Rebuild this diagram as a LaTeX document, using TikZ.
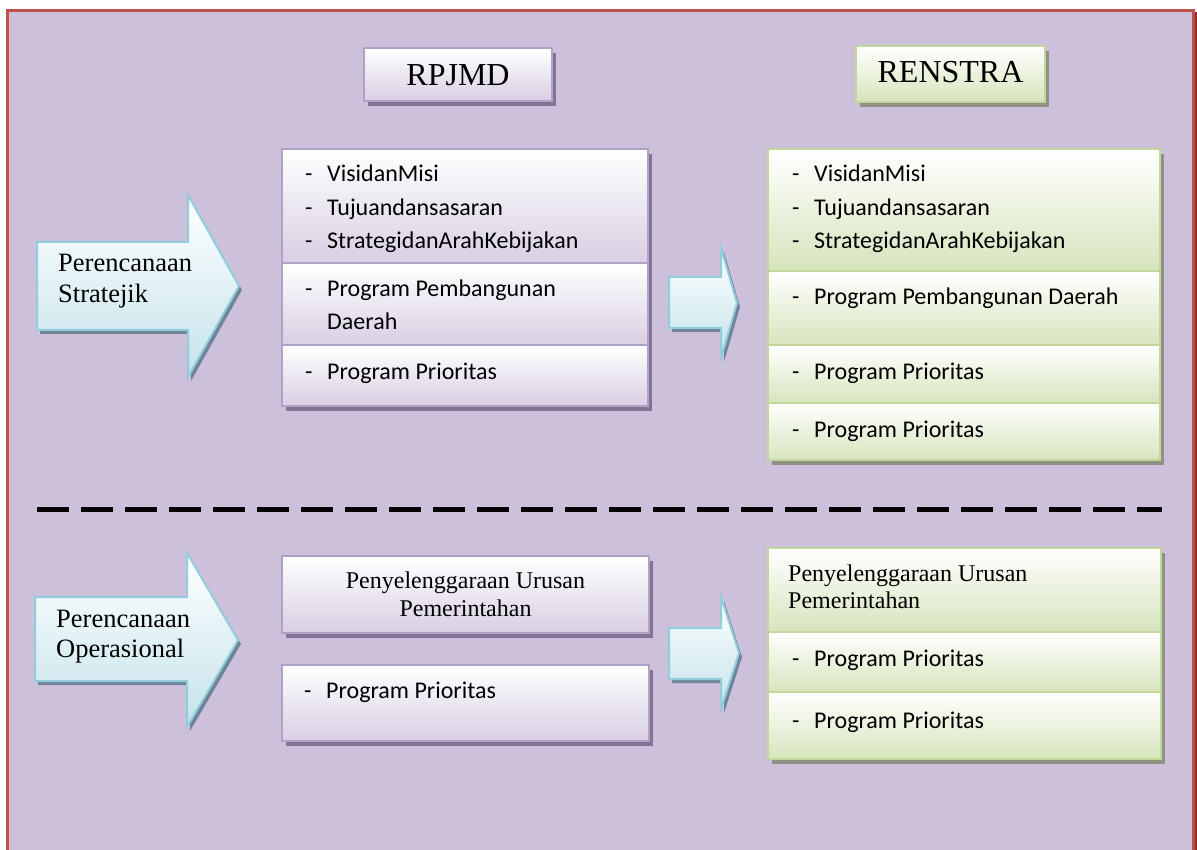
\documentclass[tikz,border=0pt]{standalone}
\usepackage{fontspec}
\setmainfont{Liberation Serif}
\newfontfamily\calfont{Carlito}
\usetikzlibrary{shadows}
\definecolor{bg}{HTML}{CCC0DA}
\definecolor{framered}{HTML}{C0504D}
\definecolor{framedark}{HTML}{8E2A27}
\definecolor{pline}{HTML}{B2A1C7}
\definecolor{pbot}{HTML}{D8CFE3}
\definecolor{pshadow}{HTML}{857396}
\definecolor{gline}{HTML}{C3D69B}
\definecolor{gbot}{HTML}{D7E4BD}
\definecolor{gshadow}{HTML}{8F9182}
\definecolor{bline}{HTML}{92CDDC}
\definecolor{bbot}{HTML}{C4E3EB}
\definecolor{bshadow}{HTML}{6F8399}
\newcommand\dashitem[1]{\makebox[22pt][l]{-}#1}
\begin{document}
\begin{tikzpicture}[x=1pt,y=-1pt,
  pbox/.style={draw=pline, line width=2.5pt, top color=white, bottom color=pbot,
    drop shadow={shadow xshift=4pt, shadow yshift=-5pt, opacity=1, fill=pshadow},
    inner sep=0pt, outer sep=0pt},
  gbox/.style={draw=gline, line width=2.5pt, top color=white, bottom color=gbot,
    drop shadow={shadow xshift=4pt, shadow yshift=-5pt, opacity=1, fill=gshadow},
    inner sep=0pt, outer sep=0pt},
  barrow/.style={draw=bline, line width=2pt, top color=white, bottom color=bbot,
    drop shadow={shadow xshift=3pt, shadow yshift=-4pt, opacity=1, fill=bshadow}},
  cal/.style={font=\calfont\fontsize{24}{29}\selectfont, inner sep=0pt, anchor=base west},
  tnr/.style={font=\fontsize{26.5}{31}\selectfont, inner sep=0pt, anchor=base west},
  ttl/.style={font=\fontsize{32}{36}\selectfont, inner sep=0pt, anchor=base},
  ser/.style={font=\fontsize{24}{28}\selectfont, inner sep=0pt},
]
\useasboundingbox (0,0) rectangle (1197,850);
\fill[white] (0,0) rectangle (1197,850);
\fill[bg] (7.5,10.5) rectangle (1193,850);
\draw[framered, line width=3pt] (7.5,850) -- (7.5,10.5) -- (1193,10.5) -- (1193,850);
\draw[framedark, line width=2pt] (1195.5,12) -- (1195.5,850);

% titles
\node[pbox, minimum width=188pt, minimum height=53pt] (rpjmd) at (458,74.5) {};
\node[ttl] (rpjmdt) at (458,85.7) {RPJMD};
\node[gbox, minimum width=189pt, minimum height=56pt] (renstra) at (950.5,74) {};
\node[ttl] (renstrat) at (950.5,83) {RENSTRA};

% left arrows
\path[barrow] (37,242) -- (188,242) -- (188,195) -- (239,286) -- (188,377) -- (188,330) -- (37,330) -- cycle;
\node[tnr] (ps1) at (58,272) {Perencanaan};
\node[tnr] (ps2) at (58,303) {Stratejik};
\path[barrow] (35,597) -- (187,597) -- (187,553) -- (238,640) -- (187,727) -- (187,681) -- (35,681) -- cycle;
\node[tnr] (po1) at (56,627) {Perencanaan};
\node[tnr] (po2) at (56,657) {Operasional};

% middle arrows
\path[barrow] (669,277) -- (721,277) -- (721,248) -- (737,303) -- (721,358) -- (721,328) -- (669,328) -- cycle;
\path[barrow] (669,628) -- (721,628) -- (721,597) -- (739,653) -- (721,709) -- (721,679) -- (669,679) -- cycle;

% RPJMD list
\node[pbox, minimum width=366pt, minimum height=114pt] (p1) at (465,206) {};
\node[pbox, minimum width=366pt, minimum height=82pt] (p2) at (465,304) {};
\node[pbox, minimum width=366pt, minimum height=61pt] (p3) at (465,375.5) {};
\node[cal] (p1a) at (305,181.7) {\dashitem{VisidanMisi}};
\node[cal] (p1b) at (305,215.5) {\dashitem{Tujuandansasaran}};
\node[cal] (p1c) at (305,249) {\dashitem{StrategidanArahKebijakan}};
\node[cal] (p2a) at (305,297) {\dashitem{Program Pembangunan}};
\node[cal] (p2b) at (327,330) {Daerah};
\node[cal] (p3a) at (305,379) {\dashitem{Program Prioritas}};

% RENSTRA list
\node[gbox, minimum width=392pt, minimum height=122pt] (g1) at (964,210) {};
\node[gbox, minimum width=392pt, minimum height=74pt] (g2) at (964,308) {};
\node[gbox, minimum width=392pt, minimum height=58pt] (g3) at (964,374) {};
\node[gbox, minimum width=392pt, minimum height=57pt] (g4) at (964,431.5) {};
\node[cal] (g1a) at (792,181.7) {\dashitem{VisidanMisi}};
\node[cal] (g1b) at (792,215.5) {\dashitem{Tujuandansasaran}};
\node[cal] (g1c) at (792,249) {\dashitem{StrategidanArahKebijakan}};
\node[cal] (g2a) at (792,305) {\dashitem{Program Pembangunan Daerah}};
\node[cal] (g3a) at (792,379) {\dashitem{Program Prioritas}};
\node[cal] (g4a) at (792,437) {\dashitem{Program Prioritas}};

% dashed separator
\coordinate (sepL) at (37,509);
\coordinate (sepR) at (1162,509);
\draw[line width=5pt, dash pattern=on 32pt off 12pt] (sepL) -- (sepR);

% bottom RPJMD
\node[pbox, minimum width=367pt, minimum height=77pt] (b1) at (465.5,594.5) {};
\node[pbox, minimum width=367pt, minimum height=76pt] (b2) at (465.5,703) {};
\node[ser, anchor=base] (b1a) at (465.5,588) {Penyelenggaraan Urusan};
\node[ser, anchor=base] (b1b) at (465.5,616) {Pemerintahan};
\node[cal] (b2a) at (304,698) {\dashitem{Program Prioritas}};

% bottom RENSTRA
\node[gbox, minimum width=393pt, minimum height=84pt] (h1) at (964.5,590) {};
\node[gbox, minimum width=393pt, minimum height=60pt] (h2) at (964.5,662) {};
\node[gbox, minimum width=393pt, minimum height=67pt] (h3) at (964.5,725.5) {};
\node[ser, anchor=base west] (h1a) at (788,581) {Penyelenggaraan Urusan};
\node[ser, anchor=base west] (h1b) at (788,608) {Pemerintahan};
\node[cal] (h2a) at (792,666) {\dashitem{Program Prioritas}};
\node[cal] (h3a) at (792,728) {\dashitem{Program Prioritas}};
\end{tikzpicture}
\end{document}
